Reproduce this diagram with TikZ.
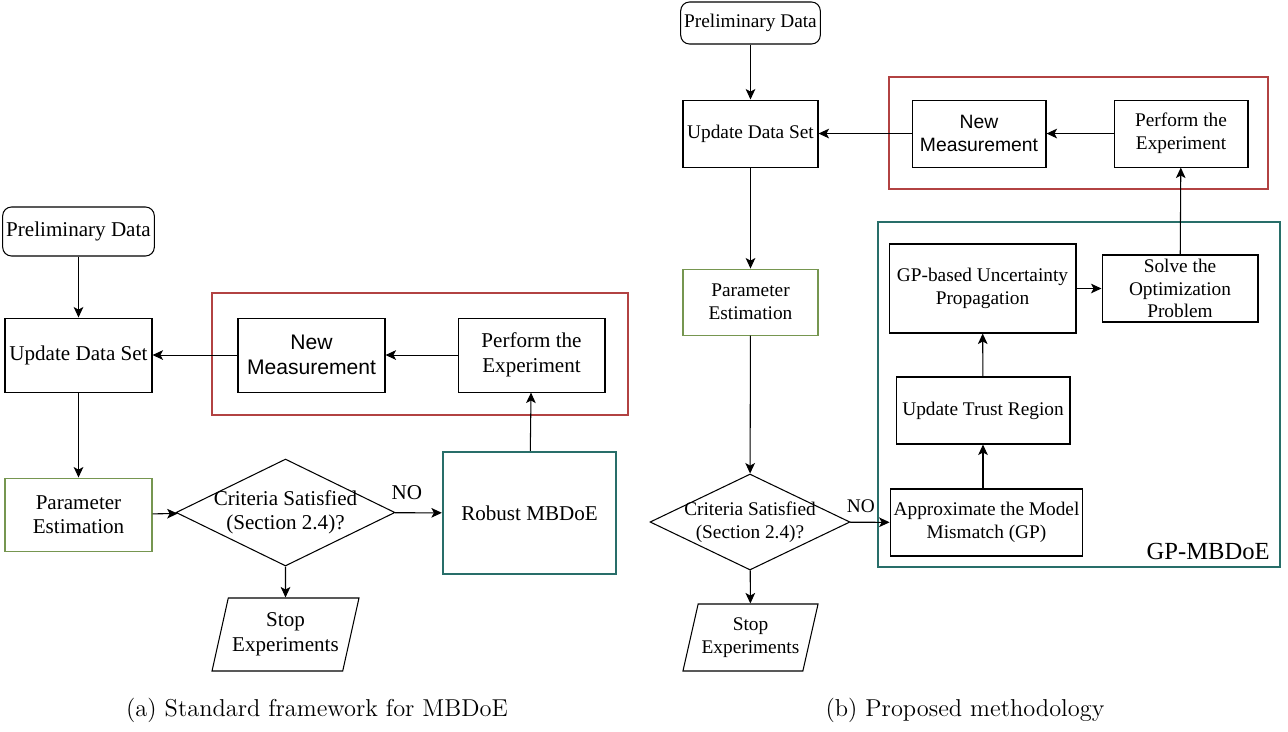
\documentclass[tikz,border=0pt]{standalone}
\usepackage{fontspec}
\newfontfamily\flowfont{Liberation Serif}
\newfontfamily\flowsans{Liberation Sans}
\usetikzlibrary{positioning}
\usetikzlibrary{shapes.geometric,arrows.meta}
\definecolor{frameRed}{RGB}{178,66,66}
\definecolor{frameTeal}{RGB}{40,110,105}
\definecolor{paramGreen}{RGB}{118,150,80}

\begin{document}
\begin{tikzpicture}[x=0.02cm,y=-0.02cm,
  stepbox/.style={rectangle,draw,line width=0.6pt,align=center,inner sep=2pt},
  decision/.style={diamond,draw,line width=0.6pt,align=center,aspect=2,inner sep=-4pt},
  stopbox/.style={trapezium,draw,line width=0.6pt,align=center,trapezium left angle=72,
    trapezium right angle=108,trapezium stretches body,inner sep=2pt},
  flow/.style={-{Stealth[length=6pt,width=5.5pt,inset=1.5pt]},line width=0.6pt}]
\useasboundingbox (0,0) rectangle (1288,731);

% (a) standard framework
\begin{scope}[font=\flowfont\fontsize{12}{14}\selectfont]
\node[stepbox,rounded corners=5pt,minimum width=2.94cm,minimum height=0.98cm] (prelima) at (78.5,231.5) {Preliminary Data};
\node[stepbox,minimum width=2.94cm,minimum height=1.48cm,below=1.22cm of prelima] (updatea) {Update Data Set};
\node[stepbox,draw=paramGreen,minimum width=2.94cm,minimum height=1.46cm,below=1.7cm of updatea] (parama) {Parameter\\Estimation};
\node[stepbox,font=\flowsans\fontsize{12}{14}\selectfont,minimum width=2.94cm,minimum height=1.48cm,right=1.7cm of updatea] (newmeasa) {New\\Measurement};
\node[stepbox,minimum width=2.94cm,minimum height=1.48cm,right=1.44cm of newmeasa] (performa) {Perform the\\Experiment};
\node[decision,minimum width=4.38cm,minimum height=2.14cm] (crita) at (285.5,512.5) {Criteria Satisfied\\(Section 2.4)?};
\node[stepbox,draw=frameTeal,line width=1.3pt,minimum width=3.46cm,minimum height=2.44cm] (robusta) at (529.5,513) {Robust MBDoE};
\node[stopbox,minimum width=2.94cm,minimum height=1.46cm] (stopa) at (285.5,634.5) {Stop\\Experiments};
\draw[frameRed,line width=1.3pt] (212,293) rectangle (628,415);

\draw[flow] (prelima) -- (updatea);
\draw[flow] (updatea) -- (parama);
\draw[flow] (newmeasa) -- (updatea);
\draw[flow] (performa) -- (newmeasa);
\draw[flow] (robusta) -- (performa);
\draw[flow] (parama) -- (crita);
\draw[flow] (crita) -- node[pos=0.25,above=4pt] {NO} (robusta);
\draw[flow] (crita) -- (stopa);
\end{scope}
\node[font=\fontsize{13.9}{16}\selectfont] (capa) at (317,710) {(a) Standard framework for MBDoE};

% (b) proposed methodology
\begin{scope}[font=\flowfont\fontsize{11}{13}\selectfont]
\node[stepbox,rounded corners=5pt,minimum width=2.7cm,minimum height=0.84cm] (prelimb) at (750.5,23) {Preliminary Data};
\node[stepbox,minimum width=2.7cm,minimum height=1.34cm,below=1.1cm of prelimb] (updateb) {Update Data Set};
\node[stepbox,draw=paramGreen,minimum width=2.7cm,minimum height=1.32cm,below=2.02cm of updateb] (paramb) {Parameter\\Estimation};
\node[stepbox,font=\flowsans\fontsize{11}{13}\selectfont,minimum width=2.68cm,minimum height=1.34cm,right=1.86cm of updateb] (newmeasb) {New\\Measurement};
\node[stepbox,minimum width=2.68cm,minimum height=1.34cm,right=1.34cm of newmeasb] (performb) {Perform the\\Experiment};
\node[decision,minimum width=4cm,minimum height=1.92cm] (critb) at (750,522) {Criteria Satisfied\\(Section 2.4)?};
\node[stopbox,minimum width=2.7cm,minimum height=1.34cm] (stopb) at (750.5,637.5) {Stop\\Experiments};
\node[stepbox,minimum width=3.74cm,minimum height=1.78cm] (gpprop) at (982.5,288.5) {GP-based Uncertainty\\Propagation};
\node[stepbox,minimum width=3.12cm,minimum height=1.34cm,right=0.5cm of gpprop] (solveb) {Solve the\\Optimization\\Problem};
\node[stepbox,minimum width=3.48cm,minimum height=1.34cm] (trustb) at (983,410.5) {Update Trust Region};
\node[stepbox,minimum width=3.7cm,minimum height=1.34cm] (approxb) at (986.5,522.5) {Approximate the Model\\Mismatch (GP)};
\draw[frameRed,line width=1.3pt] (889,77) rectangle (1268,189);
\draw[frameTeal,line width=1.3pt] (878,222) rectangle (1280,567);
\node[font=\flowfont\fontsize{14}{16}\selectfont,anchor=base east,inner sep=0pt] (gplabel) at (1270,559) {GP-MBDoE};

\draw[flow] (prelimb) -- (updateb);
\draw[flow] (updateb) -- (paramb);
\draw[flow] (paramb) -- (critb);
\draw[flow] (newmeasb) -- (updateb);
\draw[flow] (performb) -- (newmeasb);
\draw[flow] (solveb) -- (performb);
\draw[flow] (gpprop) -- (solveb);
\draw[flow] (trustb) -- (gpprop);
\draw[flow] (approxb.north -| trustb.south) -- (trustb.south);
\draw[flow] (critb) -- node[pos=0.27,above=2pt] {NO} (approxb);
\draw[flow] (critb) -- (stopb);
\end{scope}
\node[font=\fontsize{13.9}{16}\selectfont] (capb) at (965,710) {(b) Proposed methodology};
\end{tikzpicture}
\end{document}
